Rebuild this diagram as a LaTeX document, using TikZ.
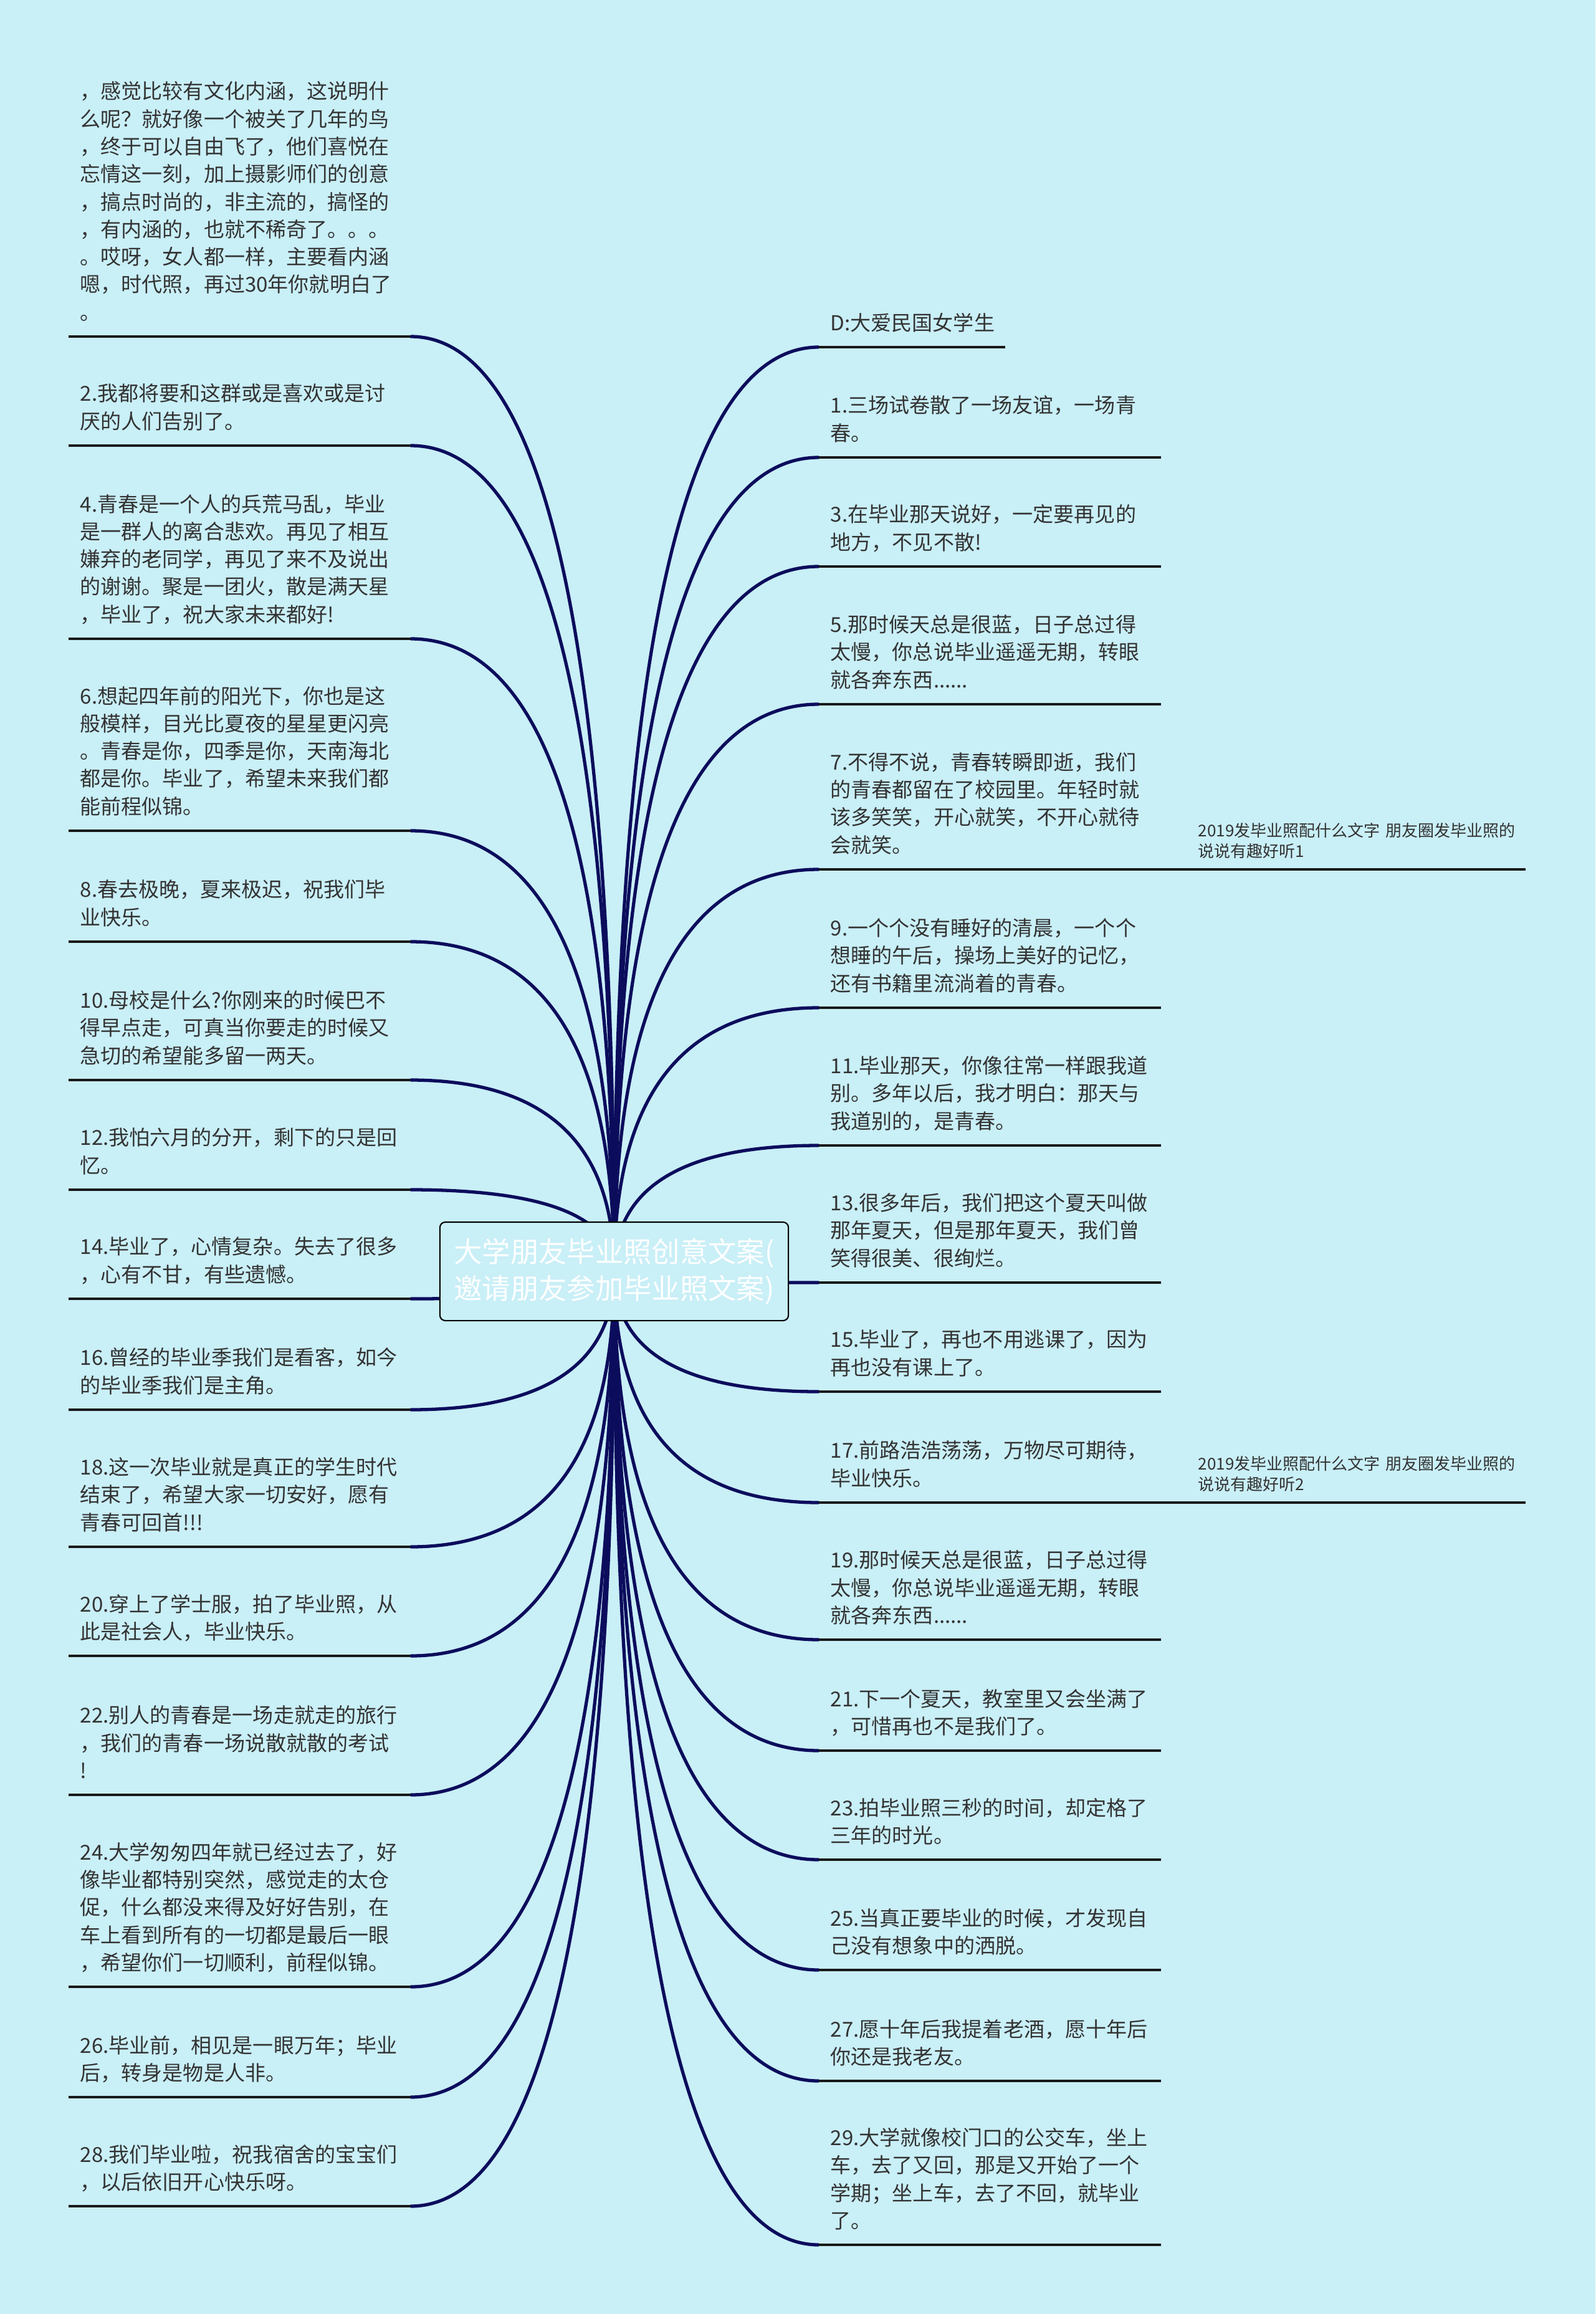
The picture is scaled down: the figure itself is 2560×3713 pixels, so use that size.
\documentclass[tikz,border=0pt]{standalone}
\usepackage{fontspec}
\setmainfont{Noto Sans CJK SC}
\usepackage{tikz}
\usetikzlibrary{calc, backgrounds}
\definecolor{mapBg}{RGB}{201,239,247}
\definecolor{branchC}{RGB}{12,12,92}
\definecolor{leafText}{RGB}{51,51,51}

\begin{document}
\begin{tikzpicture}[
    x=0.01cm, y=-0.01cm,
    root/.style={rectangle, rounded corners=2.5pt, draw=black, line width=0.6pt, fill=mapBg, minimum width=5.59cm, minimum height=1.58cm, align=center, text=white, font=\fontsize{12.9pt}{16.8pt}\selectfont},
    leaf/.style={anchor=south west, align=left, text width=5.11cm, inner xsep=0.18cm, inner ysep=0pt, text=leafText, font=\fontsize{9.4pt}{12.6pt}\selectfont, execute at end node={\rule[-0.26cm]{0pt}{0.26cm}}},
    tag/.style={anchor=south west, align=left, text width=5.24cm, inner xsep=0pt, inner ysep=0pt, text=leafText, font=\fontsize{7.4pt}{9.4pt}\selectfont, execute at end node={\rule[-0.19cm]{0pt}{0.19cm}}},
    uline/.style={line width=1.1pt, black!90},
    branch/.style={line width=1.5pt, branchC, to path={.. controls ($(\tikztostart)!2/3!(\tikztostart |- \tikztotarget)$) and ($(\tikztotarget)!2/3!(\tikztostart |- \tikztotarget)$) .. (\tikztotarget)}}
]
\useasboundingbox (0,0) rectangle (2560,3713);

\node[root] (root) at (985.5,2040) {大学朋友毕业照创意文案(\\邀请朋友参加毕业照文案)};

% left side
\node[leaf] (q0) at (110,540) {，感觉比较有文化内涵，这说明什\\么呢？就好像一个被关了几年的鸟\\，终于可以自由飞了，他们喜悦在\\忘情这一刻，加上摄影师们的创意\\，搞点时尚的，非主流的，搞怪的\\，有内涵的，也就不稀奇了。。。\\。哎呀，女人都一样，主要看内涵\\嗯，时代照，再过30年你就明白了\\。};
\node[leaf] (q2) at (110,715) {2.我都将要和这群或是喜欢或是讨\\厌的人们告别了。};
\node[leaf] (q4) at (110,1025) {4.青春是一个人的兵荒马乱，毕业\\是一群人的离合悲欢。再见了相互\\嫌弃的老同学，再见了来不及说出\\的谢谢。聚是一团火，散是满天星\\，毕业了，祝大家未来都好!};
\node[leaf] (q6) at (110,1333) {6.想起四年前的阳光下，你也是这\\般模样，目光比夏夜的星星更闪亮\\。青春是你，四季是你，天南海北\\都是你。毕业了，希望未来我们都\\能前程似锦。};
\node[leaf] (q8) at (110,1511) {8.春去极晚，夏来极迟，祝我们毕\\业快乐。};
\node[leaf] (q10) at (110,1733) {10.母校是什么?你刚来的时候巴不\\得早点走，可真当你要走的时候又\\急切的希望能多留一两天。};
\node[leaf] (q12) at (110,1909) {12.我怕六月的分开，剩下的只是回\\忆。};
\node[leaf] (q14) at (110,2084) {14.毕业了，心情复杂。失去了很多\\，心有不甘，有些遗憾。};
\node[leaf] (q16) at (110,2262) {16.曾经的毕业季我们是看客，如今\\的毕业季我们是主角。};
\node[leaf] (q18) at (110,2482) {18.这一次毕业就是真正的学生时代\\结束了，希望大家一切安好，愿有\\青春可回首!!!};
\node[leaf] (q20) at (110,2657) {20.穿上了学士服，拍了毕业照，从\\此是社会人，毕业快乐。};
\node[leaf] (q22) at (110,2880) {22.别人的青春是一场走就走的旅行\\，我们的青春一场说散就散的考试\\!};
\node[leaf] (q24) at (110,3188) {24.大学匆匆四年就已经过去了，好\\像毕业都特别突然，感觉走的太仓\\促，什么都没来得及好好告别，在\\车上看到所有的一切都是最后一眼\\，希望你们一切顺利，前程似锦。};
\node[leaf] (q26) at (110,3365) {26.毕业前，相见是一眼万年；毕业\\后，转身是物是人非。};
\node[leaf] (q28) at (110,3540) {28.我们毕业啦，祝我宿舍的宝宝们\\，以后依旧开心快乐呀。};

% right side
\node[leaf, text width=2.61cm] (qD) at (1314,557) {D:大爱民国女学生};
\node[leaf] (q1) at (1314,734) {1.三场试卷散了一场友谊，一场青\\春。};
\node[leaf] (q3) at (1314,909) {3.在毕业那天说好，一定要再见的\\地方，不见不散!};
\node[leaf] (q5) at (1314,1130) {5.那时候天总是很蓝，日子总过得\\太慢，你总说毕业遥遥无期，转眼\\就各奔东西......};
\node[leaf] (q7) at (1314,1395) {7.不得不说，青春转瞬即逝，我们\\的青春都留在了校园里。年轻时就\\该多笑笑，开心就笑，不开心就待\\会就笑。};
\node[tag] (tag1) at (1922,1395) {2019发毕业照配什么文字 朋友圈发毕业照的\\说说有趣好听1};
\node[leaf] (q9) at (1314,1617) {9.一个个没有睡好的清晨，一个个\\想睡的午后，操场上美好的记忆，\\还有书籍里流淌着的青春。};
\node[leaf] (q11) at (1314,1838) {11.毕业那天，你像往常一样跟我道\\别。多年以后，我才明白：那天与\\我道别的，是青春。};
\node[leaf] (q13) at (1314,2058) {13.很多年后，我们把这个夏天叫做\\那年夏天，但是那年夏天，我们曾\\笑得很美、很绚烂。};
\node[leaf] (q15) at (1314,2233) {15.毕业了，再也不用逃课了，因为\\再也没有课上了。};
\node[leaf] (q17) at (1314,2411) {17.前路浩浩荡荡，万物尽可期待，\\毕业快乐。};
\node[tag] (tag2) at (1922,2411) {2019发毕业照配什么文字 朋友圈发毕业照的\\说说有趣好听2};
\node[leaf] (q19) at (1314,2631) {19.那时候天总是很蓝，日子总过得\\太慢，你总说毕业遥遥无期，转眼\\就各奔东西......};
\node[leaf] (q21) at (1314,2809) {21.下一个夏天，教室里又会坐满了\\，可惜再也不是我们了。};
\node[leaf] (q23) at (1314,2984) {23.拍毕业照三秒的时间，却定格了\\三年的时光。};
\node[leaf] (q25) at (1314,3161) {25.当真正要毕业的时候，才发现自\\己没有想象中的洒脱。};
\node[leaf] (q27) at (1314,3339) {27.愿十年后我提着老酒，愿十年后\\你还是我老友。};
\node[leaf] (q29) at (1314,3602) {29.大学就像校门口的公交车，坐上\\车，去了又回，那是又开始了一个\\学期；坐上车，去了不回，就毕业\\了。};

\begin{pgfonlayer}{background}
\fill[mapBg] (0,0) rectangle (2560,3713);
% underlines
\foreach \n in {q0,q2,q4,q6,q8,q10,q12,q14,q16,q18,q20,q22,q24,q26,q28,qD,q1,q3,q5,q9,q11,q13,q15,q19,q21,q23,q25,q27,q29}
    \draw[uline] (\n.south west) -- (\n.south east);
\draw[uline] (q7.south west) -- (tag1.south east);
\draw[uline] (q17.south west) -- (tag2.south east);
% branches
\foreach \n in {q0,q2,q4,q6,q8,q10,q12,q14,q16,q18,q20,q22,q24,q26,q28}
    \draw[branch] (root.center) to (\n.south east);
\foreach \n in {qD,q1,q3,q5,q7,q9,q11,q13,q15,q17,q19,q21,q23,q25,q27,q29}
    \draw[branch] (root.center) to (\n.south west);
\end{pgfonlayer}
\end{tikzpicture}
\end{document}
